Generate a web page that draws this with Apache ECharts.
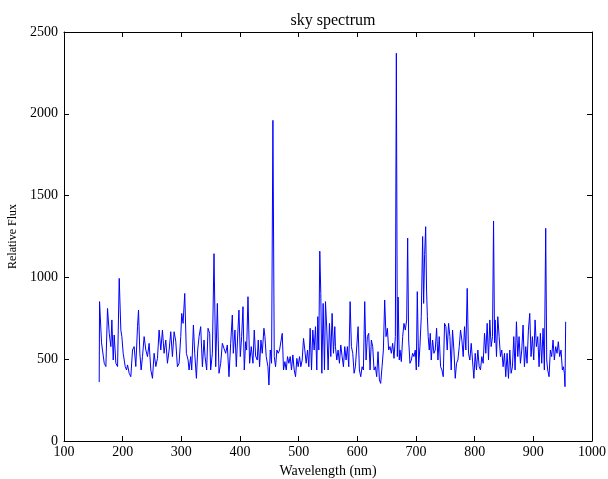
<!DOCTYPE html>
<html>
<head>
<meta charset="utf-8">
<title>sky spectrum</title>
<script src="https://cdn.jsdelivr.net/npm/echarts@6/dist/echarts.min.js"></script>
<style>
  html, body { margin: 0; padding: 0; background: #fff; }
  #chart { width: 608px; height: 479px; }
</style>
</head>
<body>
<div id="chart"></div>
<script>
// wavelength samples (nm)
const wavelength = [
  160.0, 160.6, 164.0, 168.6, 171.4, 174.2, 177.1, 179.9, 181.6, 183.9, 185.6, 188.4, 191.3, 194.1, 196.9, 198.6,
  200.9, 204.3, 206.6, 208.3, 211.1, 213.9, 216.8, 219.6, 222.4, 225.3, 227.0, 229.3, 231.5, 233.8, 236.6, 239.5,
  242.3, 245.1, 248.0, 250.8, 253.6, 256.5, 259.3, 262.1, 265.0, 267.8, 270.6, 273.5, 276.3, 279.2, 282.0, 284.8,
  287.7, 290.5, 293.3, 296.2, 299.0, 300.7, 303.0, 305.8, 308.6, 311.5, 313.2, 316.0, 317.7, 320.6, 322.8, 325.7,
  327.9, 330.2, 333.0, 335.9, 338.7, 340.4, 343.2, 345.5, 348.3, 350.0, 352.9, 355.7, 358.6, 361.4, 364.2, 367.1,
  369.9, 372.7, 375.6, 378.4, 381.2, 384.1, 386.9, 388.6, 391.4, 393.7, 396.5, 398.2, 400.5, 402.8, 405.1, 407.3,
  409.6, 411.3, 413.6, 416.4, 419.2, 422.1, 424.3, 426.6, 429.4, 431.1, 433.4, 435.7, 437.9, 440.8, 442.5, 444.7,
  447.6, 449.3, 451.6, 453.8, 456.1, 458.4, 460.6, 462.9, 465.2, 467.4, 469.7, 472.0, 474.2, 476.5, 478.8, 481.0,
  483.3, 485.6, 487.8, 490.1, 492.4, 494.7, 496.9, 499.2, 501.5, 503.7, 506.0, 508.3, 510.5, 512.8, 515.1, 517.3,
  519.6, 521.9, 524.1, 526.4, 528.7, 530.9, 532.6, 534.3, 536.0, 537.7, 539.5, 541.7, 544.0, 545.7, 548.0, 550.2,
  552.5, 554.8, 557.0, 559.3, 561.6, 562.7, 565.0, 567.2, 569.5, 571.8, 574.1, 576.3, 578.6, 580.8, 583.1, 585.4,
  587.7, 589.9, 592.2, 594.5, 596.7, 599.0, 601.3, 603.5, 605.8, 608.1, 610.3, 612.6, 614.9, 617.1, 619.4, 621.7,
  623.9, 626.2, 628.5, 630.8, 633.0, 635.3, 637.6, 639.8, 642.1, 644.4, 646.6, 648.9, 651.2, 653.4, 655.7, 658.0,
  660.2, 662.5, 664.8, 666.5, 668.2, 669.5, 671.5, 672.7, 675.0, 677.3, 679.5, 681.8, 684.1, 685.8, 687.5, 689.7,
  692.0, 694.3, 696.5, 698.8, 700.5, 702.2, 704.5, 706.7, 709.0, 711.3, 713.0, 714.7, 716.5, 718.0, 719.4, 720.8,
  722.6, 724.3, 726.0, 728.3, 730.6, 732.8, 735.1, 737.4, 739.6, 741.9, 744.2, 746.4, 748.7, 751.0, 753.2, 755.5,
  757.8, 760.0, 762.3, 764.6, 766.9, 769.1, 771.4, 773.7, 775.9, 778.2, 780.5, 782.7, 785.0, 787.3, 789.5, 791.8,
  794.1, 796.3, 798.6, 800.9, 803.1, 805.4, 807.7, 809.9, 812.2, 814.5, 816.8, 819.0, 821.3, 823.6, 825.8, 828.1,
  830.4, 832.2, 833.9, 834.9, 837.2, 839.4, 841.7, 844.0, 846.2, 848.5, 850.8, 853.0, 855.3, 857.6, 859.9, 862.1,
  864.4, 866.7, 868.9, 871.2, 873.5, 875.7, 878.0, 880.3, 882.5, 884.8, 887.1, 889.3, 891.6, 893.9, 896.1, 898.4,
  900.7, 903.0, 905.2, 907.5, 909.8, 912.0, 914.3, 916.6, 918.8, 921.1, 922.8, 924.5, 926.8, 929.0, 931.3, 933.6,
  935.8, 938.1, 940.4, 942.6, 944.9, 947.2, 949.5, 951.2, 952.9, 954.0, 955.1
];

// relative flux at each wavelength
const flux = [
  360, 852, 600, 475, 455, 810, 658, 577, 740, 495, 648, 475, 455, 994, 678, 638,
  536, 455, 434, 465, 414, 393, 556, 577, 455, 699, 800, 536, 434, 516, 638, 556,
  516, 597, 434, 383, 536, 455, 505, 678, 556, 678, 536, 617, 475, 556, 668, 516,
  668, 610, 454, 475, 638, 780, 719, 902, 536, 495, 434, 516, 434, 709, 536, 383,
  556, 638, 699, 454, 617, 516, 434, 689, 658, 434, 536, 1145, 454, 841, 414, 475,
  597, 566, 536, 587, 393, 597, 770, 536, 678, 454, 678, 800, 516, 638, 821, 434,
  607, 556, 882, 475, 577, 475, 678, 520, 495, 617, 454, 617, 536, 689, 638, 516,
  454, 342, 556, 475, 1960, 516, 454, 556, 536, 556, 566, 658, 434, 485, 434, 516,
  475, 516, 434, 526, 434, 393, 505, 454, 516, 454, 495, 627, 556, 475, 556, 454,
  689, 434, 678, 556, 699, 434, 760, 556, 1160, 902, 414, 841, 434, 852, 678, 434,
  719, 516, 780, 536, 699, 577, 495, 556, 475, 587, 516, 454, 577, 495, 577, 454,
  852, 577, 536, 414, 454, 444, 699, 434, 393, 454, 434, 852, 495, 638, 658, 434,
  617, 577, 434, 454, 393, 546, 373, 352, 454, 556, 862, 638, 689, 556, 577, 536,
  597, 505, 638, 2370, 516, 880, 495, 556, 485, 638, 719, 678, 740, 1240, 617, 475,
  495, 536, 516, 556, 434, 913, 454, 577, 760, 1250, 841, 1140, 1310, 923, 760, 638,
  556, 658, 495, 617, 536, 556, 689, 495, 638, 454, 434, 393, 719, 699, 556, 719,
  638, 434, 678, 556, 383, 475, 495, 577, 678, 617, 516, 699, 556, 933, 536, 495,
  597, 495, 383, 536, 434, 556, 454, 434, 516, 475, 658, 536, 719, 495, 740, 577,
  638, 1345, 600, 740, 516, 760, 638, 516, 556, 454, 536, 393, 536, 383, 556, 414,
  454, 638, 434, 729, 516, 638, 475, 556, 709, 454, 577, 475, 678, 780, 516, 638,
  495, 740, 577, 638, 454, 658, 475, 689, 434, 1300, 495, 434, 393, 556, 516, 617,
  495, 577, 536, 607, 516, 556, 434, 454, 414, 332, 729
];

const xTicks = { min: 100, max: 1000, interval: 100 };
const yTicks = { min: 0, max: 2500, interval: 500 };

const font = 'Liberation Serif';
const black = '#000';

const chart = echarts.init(document.getElementById('chart'));

function frameAxis(pos, ticks, showLabel, extra) {
  return Object.assign({
    type: 'value',
    position: pos,
    min: ticks.min,
    max: ticks.max,
    interval: ticks.interval,
    axisLine: { show: true, onZero: false, lineStyle: { color: black, width: 1 } },
    axisTick: { show: true, inside: true, length: 5, lineStyle: { color: black } },
    axisLabel: { show: showLabel, color: black, fontFamily: font, fontSize: 14, formatter: v => String(v) },
    splitLine: { show: false }
  }, extra || {});
}

chart.setOption({
  animation: false,
  backgroundColor: '#fff',
  title: {
    text: 'sky spectrum',
    left: 328,
    top: 8,
    textAlign: 'center',
    textStyle: { fontFamily: font, fontSize: 16, fontWeight: 'normal', color: black }
  },
  grid: { left: 64, right: 16, top: 32, bottom: 38, containLabel: false, outerBoundsMode: 'none' },
  xAxis: [
    frameAxis('bottom', xTicks, true, {
      name: 'Wavelength (nm)',
      nameLocation: 'middle',
      nameGap: 23,
      nameTextStyle: { fontFamily: font, fontSize: 14, color: black },
      axisLabel: { show: true, color: black, fontFamily: font, fontSize: 14, margin: 4, formatter: v => String(v) }
    }),
    frameAxis('top', xTicks, false)
  ],
  yAxis: [
    frameAxis('left', yTicks, true, {
      name: 'Relative Flux',
      nameLocation: 'middle',
      nameGap: 42,
      nameTextStyle: { fontFamily: font, fontSize: 12, color: black },
      axisLabel: { show: true, color: black, fontFamily: font, fontSize: 14, margin: 6, formatter: v => String(v) }
    }),
    frameAxis('right', yTicks, false)
  ],
  series: [{
    type: 'line',
    data: wavelength.map((w, i) => [w, flux[i]]),
    symbol: 'none',
    sampling: null,
    lineStyle: { color: '#0000ff', width: 1 },
    itemStyle: { color: '#0000ff' }
  }]
});
</script>
</body>
</html>
